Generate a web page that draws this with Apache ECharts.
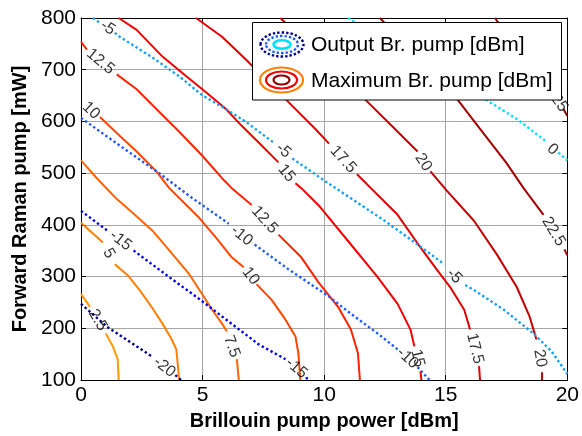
<!DOCTYPE html>
<html><head><meta charset="utf-8">
<script src="https://cdn.jsdelivr.net/npm/echarts@6/dist/echarts.min.js"></script>
<style>html,body{margin:0;padding:0;background:#fff}#c{width:582px;height:436px}</style>
</head><body><div id="c"></div>
<script>
const G = ['-', '-'];
const xTicks = [0, 5, 10, 15, 20];
const yTicks = [100, 200, 300, 400, 500, 600, 700, 800];

// Maximum Br. pump [dBm] contours (solid)
const max2_5 = [[0,266.4],[0.37,241.5],G,[1.02,189.9],[1.31,165.0],[1.51,140.2],[1.55,100]];
const max5 = [[0,404.1],[0.90,365.8],G,[1.39,323.8],[1.92,302.7],[2.41,274.0],[2.90,241.5],[3.35,209.0],[3.71,180.3],[3.92,159.3],[4.04,100]];
const max7_5 = [[0,524.6],[0.65,490.2],[1.43,451.9],[2.12,423.2],[2.94,388.8],[3.63,350.5],[4.45,304.6],[4.98,266.4],[5.39,235.8],[5.80,209.0],[6.0,193.7],G,[6.41,140.2],[6.49,100]];
const max10 = [[0,643.2],G,[0.78,608.7],[1.59,572.4],[2.29,541.8],[3.10,503.5],[3.63,471.0],[4.86,413.7],[5.55,375.4],[6.20,337.2],[6.69,318.0],G,[7.22,285.5],[7.84,254.9],[8.41,216.7],[8.82,184.2],[8.94,151.6],[9.02,100]];
const max12_5 = [[0,754.1],[0.24,738.8],G,[1.47,691.0],[2.29,662.3],[3.10,624.0],[4.04,580.0],[4.98,534.1],[5.80,490.2],[6.20,471.0],[7.02,438.5],G,[8.12,381.1],[9.06,337.2],[9.76,289.3],[10.57,241.5],[11.10,197.5],[11.39,151.6],[11.47,100]];
const max15 = [[1.55,800],[2.29,777.0],[3.35,725.4],[4.33,687.2],[5.14,656.6],[5.96,624.0],[6.61,591.5],[7.43,553.3],[8.12,520.8],G,[8.82,480.6],[9.06,471.0],[9.76,438.5],[11.10,362.0],[12.20,298.9],[13.02,247.3],[13.55,197.5],[13.71,165.0],G,[13.96,117.2],[14.0,100]];
const max17_5 = [[4.73,800],[5.80,763.7],[6.78,719.7],[8.41,643.2],[9.63,585.8],[10.2,557.1],G,[11.35,497.8],[11.92,471.0],[13.02,419.4],[13.96,356.3],[14.65,312.3],[15.18,279.8],[15.76,235.8],[16.0,197.5],G,[16.37,126.8],[16.41,100]];
const max20 = [[8.20,800],[11.67,643.2],[12.90,585.8],[13.84,541.8],G,[14.37,503.5],[15.06,465.3],[16.16,407.9],[17.10,342.9],[17.92,279.8],[18.45,222.4],[18.73,178.4],G,[18.96,115],[18.96,100]];
const max22_5 = [[12.29,800],[15.47,643.2],[16.41,585.8],[17.51,518.9],[18.20,471.0],[19.02,419.4],G,[19.88,352.5],[20,341]];
const max25 = [[17.02,800],[19.45,650],G,[19.84,624.0],[20,610.7]];

const lab2_5 = [[0.69,216]];
const lab5 = [[1.14,344.8]];
const lab7_5 = [[6.2,165.0]];
const lab10 = [[0.41,621.0],[6.98,300.8]];
const lab12_5 = [[0.80,715.8],[7.55,409.8]];
const lab15 = [[8.45,499.7],[13.84,142.1]];
const lab17_5 = [[10.78,526.5],[16.2,161]];
const lab20 = [[14.08,520.8],[18.88,142]];
const lab22_5 = [[19.43,386.9]];
const lab25 = [[19.67,635.5]];

const maxLevels = ['2.5','5','7.5','10','12.5','15','17.5','20','22.5','25'];
const maxLines = [max2_5,max5,max7_5,max10,max12_5,max15,max17_5,max20,max22_5,max25];
const maxLabels = [lab2_5,lab5,lab7_5,lab10,lab12_5,lab15,lab17_5,lab20,lab22_5,lab25];
const maxColors = ['#ff9900','#ff8000','#ff6400','#ff4600','#ff2200','#f50000','#e00000','#c40000','#a40000','#8c0000'];

// Output Br. pump [dBm] contours (dotted)
const out_20 = [[0,247.3],[1.06,203.3],[2.29,165.0],[2.90,145.9],G,[3.88,109.5],[4.12,100]];
const out_15 = [[0,427.0],[1.14,386.9],G,[2.16,350.5],[3.63,298.9],[4.86,256.8],[6.08,212.8],[7.31,168.8],[8.41,140.2],G,[9.27,105.7],[9.31,100]];
const out_10 = [[0,606.8],[1.59,553.3],[3.22,499.7],[4.57,451.9],[6.08,402.2],G,[7.14,362.0],[8.53,314.2],[10.16,262.6],[11.10,228.1],[12.20,189.9],[13.02,159.3],G,[13.84,124.9],[14.33,100]];
const out_5 = [[0.49,800],[0.78,790.4],G,[1.39,771.3],[1.59,763.7],[2.94,723.5],[4.04,687.2],[4.98,650.8],[5.96,624.0],[6.78,599.2],[7.92,559.0],G,[8.69,528.4],[10.16,480.6],[11.39,442.3],[12.49,407.9],[13.84,362.0],[14.94,323.8],G,[15.80,283.6],[16.16,274.0],[17.39,235.8],[18.61,189.9],[19.35,155.5],[20,111.5]];
const out0 = [[10.98,800],[16.61,643.2],[17.92,604.9],[19.14,560.9],G,[19.63,539.9],[20,524.6]];

const labO_20 = [[3.43,124.9]];
const labO_15 = [[1.63,369.7],[8.86,122.9]];
const labO_10 = [[6.61,379.2],[13.43,142.1]];
const labO_5 = [[1.10,780.9],[8.33,543.7],[15.35,300.8]];
const labO0 = [[19.39,545.6]];

const outLevels = ['-20','-15','-10','-5','0'];
const outLines = [out_20,out_15,out_10,out_5,out0];
const outLabels = [labO_20,labO_15,labO_10,labO_5,labO0];
const outColors = ['#00008c','#0000ff','#1e5aff','#10a0ff','#00e0ff'];

const FONT = '"Liberation Sans", Arial, sans-serif';
const chart = echarts.init(document.getElementById('c'), null, {renderer: 'canvas'});

const series = [];
maxLines.forEach((d, i) => series.push({
  type: 'line', data: d, symbol: 'none', connectNulls: false, silent: true, z: 2,
  lineStyle: {color: maxColors[i], width: 2}
}));
outLines.forEach((d, i) => series.push({
  type: 'line', data: d, symbol: 'none', connectNulls: false, silent: true, z: 3,
  lineStyle: {color: outColors[i], width: 2.4, type: [2.4, 2.6], cap: 'butt'}
}));

function axisCommon(pos, showLabel) {
  return {
    type: 'value', position: pos,
    axisLine: {show: true, onZero: false, lineStyle: {color: '#000', width: 1}},
    axisTick: {show: true, inside: true, length: 5, lineStyle: {color: '#000'}},
    axisLabel: {show: showLabel, color: '#000', fontSize: 21, fontFamily: FONT},
    splitLine: {show: false}
  };
}
const xa = axisCommon('bottom', true);
Object.assign(xa, {min: xTicks[0], max: xTicks[xTicks.length-1], interval: xTicks[1]-xTicks[0],
  splitLine: {show: true, lineStyle: {color: '#a6a6a6', width: 1}},
  name: 'Brillouin pump power [dBm]', nameLocation: 'middle', nameGap: 31,
  nameTextStyle: {color: '#000', fontSize: 20, fontWeight: 'bold', fontFamily: FONT}});
xa.axisLabel.margin = 5;
const xb = axisCommon('top', false);
Object.assign(xb, {min: xTicks[0], max: xTicks[xTicks.length-1], interval: xTicks[1]-xTicks[0]});
const ya = axisCommon('left', true);
Object.assign(ya, {min: yTicks[0], max: yTicks[yTicks.length-1], interval: yTicks[1]-yTicks[0],
  splitLine: {show: true, lineStyle: {color: '#a6a6a6', width: 1}},
  name: 'Forward Raman pump [mW]', nameLocation: 'middle', nameGap: 47, nameRotate: 90,
  nameTextStyle: {color: '#000', fontSize: 20, fontWeight: 'bold', fontFamily: FONT}});
ya.axisLabel.margin = 5;
const yb = axisCommon('right', false);
Object.assign(yb, {min: yTicks[0], max: yTicks[yTicks.length-1], interval: yTicks[1]-yTicks[0]});

const legendGraphic = {
  type: 'group', z: 100, children: [
    {type: 'rect', z: 100, shape: {x: 252.5, y: 22.5, width: 309, height: 77.5}, style: {fill: '#fff', stroke: '#000', lineWidth: 1}},
    {type: 'ellipse', z: 101, shape: {cx: 282, cy: 44.5, rx: 21.5, ry: 12}, style: {fill: 'none', stroke: outColors[0], lineWidth: 2.4, lineDash: [2.4, 2]}},
    {type: 'ellipse', z: 101, shape: {cx: 282, cy: 44.5, rx: 16, ry: 8.5}, style: {fill: 'none', stroke: outColors[2], lineWidth: 2.4, lineDash: [2.4, 2]}},
    {type: 'ellipse', z: 101, shape: {cx: 282, cy: 44.5, rx: 8.5, ry: 4.2}, style: {fill: 'none', stroke: outColors[4], lineWidth: 2.6}},
    {type: 'ellipse', z: 101, shape: {cx: 281.5, cy: 80, rx: 21.5, ry: 12.5}, style: {fill: 'none', stroke: maxColors[1], lineWidth: 2.2}},
    {type: 'ellipse', z: 101, shape: {cx: 281.5, cy: 80, rx: 15.5, ry: 8.5}, style: {fill: 'none', stroke: maxColors[5], lineWidth: 2.2}},
    {type: 'ellipse', z: 101, shape: {cx: 281.5, cy: 80, rx: 8, ry: 4.5}, style: {fill: 'none', stroke: maxColors[9], lineWidth: 2.2}},
    {type: 'text', z: 101, style: {text: 'Output Br. pump [dBm]', x: 311, y: 45, fill: '#000', font: '21px ' + FONT, verticalAlign: 'middle', align: 'left'}},
    {type: 'text', z: 101, style: {text: 'Maximum Br. pump [dBm]', x: 311, y: 81, fill: '#000', font: '21px ' + FONT, verticalAlign: 'middle', align: 'left'}}
  ]
};

const option = {
  animation: false,
  backgroundColor: '#fff',
  grid: {left: 81, right: 11, top: 18, bottom: 52, show: false},
  xAxis: [xa, xb],
  yAxis: [ya, yb],
  series: series,
  graphic: [legendGraphic]
};
chart.setOption(option);

// contour labels rotated along their line
function labelItems(lines, labels, levels) {
  const items = [];
  lines.forEach((d, i) => {
    const gaps = [];
    d.forEach((p, k) => { if (p[0] === '-') gaps.push(k); });
    labels[i].forEach((lp, j) => {
      const g = gaps[j];
      const a = chart.convertToPixel({gridIndex: 0}, d[g-1]);
      const b = chart.convertToPixel({gridIndex: 0}, d[g+1]);
      let ang = Math.atan2(-(b[1]-a[1]), b[0]-a[0]) * 180 / Math.PI;
      if (ang > 90) ang -= 180;
      if (ang < -90) ang += 180;
      items.push({value: [lp[0], lp[1]], name: levels[i], label: {rotate: ang}});
    });
  });
  return items;
}
const labData = labelItems(maxLines, maxLabels, maxLevels).concat(labelItems(outLines, outLabels, outLevels));
series.push({
  type: 'scatter', data: labData, symbolSize: 1, silent: true, z: 5,
  itemStyle: {color: 'rgba(0,0,0,0)'},
  label: {show: true, position: 'inside', formatter: '{b}', color: '#000', fontSize: 16, fontFamily: FONT}
});
chart.setOption({series: series});
</script></body></html>
